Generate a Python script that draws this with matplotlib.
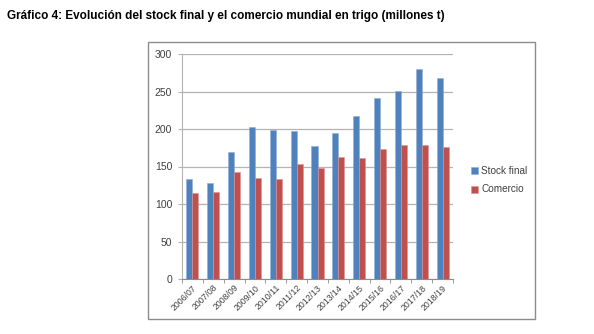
import matplotlib
matplotlib.use("Agg")
import matplotlib.pyplot as plt
import numpy as np
from matplotlib.patches import Rectangle

# ── Data (millones t) ─────────────────────────────────────────────────────────
campaigns = ["2006/07", "2007/08", "2008/09", "2009/10", "2010/11", "2011/12",
             "2012/13", "2013/14", "2014/15", "2015/16", "2016/17", "2017/18",
             "2018/19"]
stock_final = [133, 128, 170, 203, 199, 198, 178, 195, 218, 242, 251, 280, 268]
comercio = [115, 116, 143, 135, 133, 154, 148, 163, 162, 173, 179, 179, 176]

BLUE = "#4F81BD"
RED = "#C0504D"
GRID = "#B3B3B3"
TEXT = "#404040"

plt.rcParams["font.family"] = ["Liberation Sans", "DejaVu Sans"]

fig = plt.figure(figsize=(5.94, 3.34), dpi=100)

# title
fig.text(7 / 594, 1 - 16 / 334, "Gráfico 4: Evolución del stock final y el comercio mundial en trigo (millones t)",
         fontsize=8.5, fontweight="bold", ha="left", va="center", color="black")

# chart frame
fig.patches.append(Rectangle((148 / 594, 1 - 319 / 334), (535 - 148) / 594, (319 - 42) / 334,
                             transform=fig.transFigure, fill=False, edgecolor="#8C8C8C",
                             linewidth=1.0))

ax = fig.add_axes([182 / 594, 1 - 279 / 334, (453 - 182) / 594, (279 - 54) / 334])

x = np.arange(len(campaigns))
w = 0.29
ax.bar(x - w / 2, stock_final, w, color=BLUE, label="Stock final", zorder=3,
       edgecolor="#8FB0D8", linewidth=0.4)
ax.bar(x + w / 2, comercio, w, color=RED, label="Comercio", zorder=3,
       edgecolor="#D99694", linewidth=0.4)

ax.set_xlim(-0.5, len(campaigns) - 0.5)
ax.set_ylim(0, 300)
ax.set_yticks(np.arange(0, 301, 50))
ax.yaxis.grid(True, color=GRID, linewidth=0.9, zorder=0)
ax.set_axisbelow(True)

for s in ("top", "right"):
    ax.spines[s].set_visible(False)
ax.spines["left"].set_color(GRID)
ax.spines["bottom"].set_color("#8C8C8C")

ax.set_xticks(x)
ax.set_xticklabels(campaigns, rotation=45, ha="right", rotation_mode="anchor",
                   fontsize=6.3, color=TEXT)
ax.set_xticks(np.arange(-0.5, len(campaigns)), minor=True)
ax.tick_params(axis="x", which="major", length=0, pad=3)
ax.tick_params(axis="x", which="minor", length=3, color="#8C8C8C")
ax.tick_params(axis="y", length=3, color=GRID, labelsize=7.5, labelcolor=TEXT, pad=4)

leg = fig.legend(loc="center left", bbox_to_anchor=(462 / 594, 1 - 180 / 334),
                 frameon=False, fontsize=7.2, handlelength=0.7, handleheight=0.7,
                 handletextpad=0.3, labelspacing=0.9)
for t in leg.get_texts():
    t.set_color(TEXT)

fig.savefig("out.png", dpi=100)
